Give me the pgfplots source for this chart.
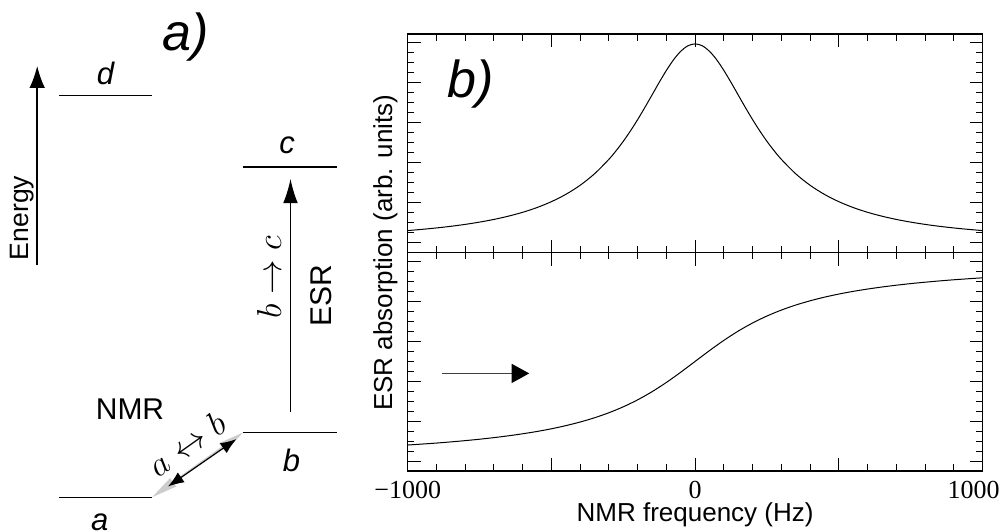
\documentclass[border=0pt]{standalone}
\usepackage{fontspec}
\setmainfont{Liberation Sans}
\newfontfamily\tnr{Liberation Serif}
\usepackage{pgfplots}
\pgfplotsset{compat=1.18}
\usetikzlibrary{arrows.meta}
\newcommand\fs[1]{\fontsize{#1}{#1}\selectfont}

\pgfplotstableread{
x y
-1000 0.303
-950 0.334
-900 0.369
-850 0.410
-800 0.458
-750 0.515
-700 0.582
-650 0.663
-600 0.760
-550 0.879
-500 1.026
-450 1.208
-400 1.436
-350 1.723
-300 2.085
-275 2.298
-250 2.534
-225 2.795
-200 3.077
-175 3.379
-150 3.692
-125 4.007
-100 4.307
-75 4.574
-50 4.786
-25 4.923
0 4.970
25 4.923
50 4.786
75 4.574
100 4.307
125 4.007
150 3.692
175 3.379
200 3.077
225 2.795
250 2.534
275 2.298
300 2.085
350 1.723
400 1.436
450 1.208
500 1.026
550 0.879
600 0.760
650 0.663
700 0.582
750 0.515
800 0.458
850 0.410
900 0.369
950 0.334
1000 0.303
}\lorentz

\pgfplotstableread{
x y
-1000 0.400
-950 0.424
-900 0.449
-850 0.478
-800 0.510
-750 0.545
-700 0.585
-650 0.630
-600 0.681
-550 0.739
-500 0.806
-450 0.884
-400 0.975
-350 1.081
-300 1.207
-250 1.355
-200 1.529
-150 1.732
-100 1.964
-50 2.220
0 2.490
50 2.760
100 3.016
150 3.248
200 3.451
250 3.625
300 3.773
350 3.899
400 4.005
450 4.096
500 4.174
550 4.241
600 4.299
650 4.350
700 4.395
750 4.435
800 4.470
850 4.502
900 4.531
950 4.556
1000 4.580
}\dispersion

\begin{document}
\begin{tikzpicture}
\path[use as bounding box] (0pt,0pt) rectangle (500pt,-265.5pt);

\pgfplotsset{
  esr/.style={
    scale only axis, width=287.4pt,
    xmin=-1000, xmax=1000, ymin=-0.25,
    xtick={-1000,-500,0,500,1000},
    ytick={0,1,2,3,4,5},
    minor x tick num=4,
    minor y tick num=3,
    yticklabels={},
    tick align=inside,
    major tick length=6.5pt,
    minor tick length=3.3pt,
    axis line style={line width=0.7pt},
    every tick/.style={black, line width=0.5pt},
  }
}

% top panel
\begin{axis}[esr, at={(203.85pt,-17pt)}, anchor=north west,
  height=109.35pt, ymax=5.2175, xticklabels={}]
\addplot[black, line width=0.5pt, smooth] table[x=x,y=y] {\lorentz};
\node[anchor=base west, inner sep=0, font=\fs{26}\itshape] at (axis cs:-863,3.62) {b)};
\end{axis}

% bottom panel
\begin{axis}[esr, at={(203.85pt,-126.35pt)}, anchor=north west,
  height=109.15pt, ymax=5.2075,
  xticklabels={{\tnr −1000},{},{\tnr 0},{},{\tnr 1000\kern9pt}},
  xticklabel style={font=\fs{13}, yshift=-1.7pt},
  xlabel={NMR frequency (Hz)},
  xlabel style={at={(axis description cs:0.5,-0.229)}, anchor=base, font=\fs{13}},
  ylabel={ESR absorption (arb. units)},
  ylabel style={at={(axis description cs:-0.0273,1)}, anchor=base, rotate=0, font=\fs{13}},
]
\addplot[black, line width=0.5pt, smooth] table[x=x,y=y] {\dispersion};
\draw[black!75, line width=0.6pt, -{Triangle[length=8.8pt,width=9.5pt,fill=black,color=black]}] (axis cs:-880,2.19) -- (axis cs:-577,2.19);
\end{axis}

% left energy diagram
\node[anchor=base west, inner sep=0, font=\fs{26}\itshape] at (81pt,-25pt) {a)};
\draw[line width=0.8pt, -{Latex[length=11pt,width=7.8pt]}] (18.6pt,-132.6pt) -- (18.6pt,-32.95pt);
\node[rotate=90, anchor=base, inner sep=0, font=\fs{13.3}] at (14.35pt,-108.95pt) {Energy};

\draw[line width=0.8pt] (29.55pt,-47.8pt) -- (76pt,-47.8pt);
\node[anchor=base, inner sep=0, font=\fs{15.5}\itshape] at (52.7pt,-42.25pt) {d};
\draw[line width=0.8pt] (121.6pt,-83.45pt) -- (168.5pt,-83.45pt);
\node[anchor=base, inner sep=0, font=\fs{15.5}\itshape] at (143.5pt,-76.85pt) {c};
\draw[line width=0.8pt] (121.6pt,-216.2pt) -- (168.5pt,-216.2pt);
\node[anchor=base, inner sep=0, font=\fs{15.5}\itshape] at (145.8pt,-235.65pt) {b};
\draw[line width=0.8pt] (29.55pt,-248.65pt) -- (76pt,-248.65pt);
\node[anchor=base, inner sep=0, font=\fs{15.5}\itshape] at (49.85pt,-265pt) {a};

% ESR transition
\draw[line width=0.6pt, -{Latex[length=12pt,width=7.3pt]}] (145.25pt,-206.1pt) -- (145.25pt,-89.5pt);
\node[rotate=90, anchor=base, inner sep=0, font=\fs{18}] at (140.5pt,-138.5pt) {$b\rightarrow c$};
\node[rotate=90, anchor=base, inner sep=0, font=\fs{15}] at (165.5pt,-147.8pt) {ESR};

% NMR transition
\node[anchor=base, inner sep=0, font=\fs{15}] at (65pt,-209.5pt) {NMR};
\draw[black!20, line width=0.9pt, {Triangle[length=13pt,width=5pt]}-{Triangle[length=13pt,width=5pt]}] (76pt,-248.65pt) -- (121.6pt,-216.2pt);
\draw[line width=0.6pt, {Latex[length=8pt,width=6pt]}-{Latex[length=8pt,width=6pt]}] (84pt,-243.25pt) -- (118.25pt,-219.5pt);
\node[rotate=35.4, anchor=center, inner sep=0, font=\fs{18}] at (93.4pt,-222pt) {$a\leftrightarrow b$};
\end{tikzpicture}
\end{document}
